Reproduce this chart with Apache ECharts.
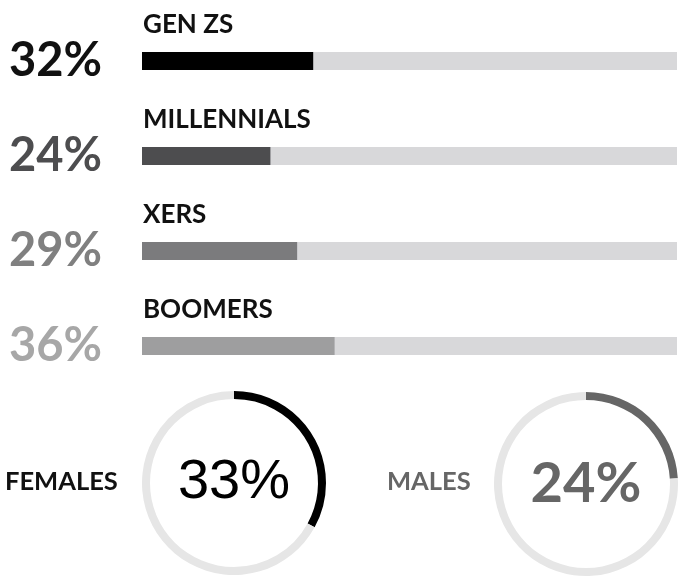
<!DOCTYPE html>
<html>
<head>
<meta charset="utf-8">
<script src="https://cdn.jsdelivr.net/npm/echarts@6/dist/echarts.min.js"></script>
<style>
  html, body { margin: 0; padding: 0; background: #fff; }
  #chart { width: 681px; height: 576px; }
</style>
</head>
<body>
<div id="chart"></div>
<script>
// generations
const generations = ['GEN ZS', 'MILLENNIALS', 'XERS', 'BOOMERS'];
const genValues = [32, 24, 29, 36];
const barColors = ['#000000', '#4d4d4f', '#7b7b7d', '#9e9e9f'];
const pctColors = ['#111111', '#4d4d4f', '#808080', '#a7a7a7'];

// gender rings
const genders = ['FEMALES', 'MALES'];
const genderValues = [33, 24];
const genderColors = ['#000000', '#666666'];

const chart = echarts.init(document.getElementById('chart'));

const lato = 'Lato, "Noto Sans", sans-serif';

function ring(i, center, textStyle) {
  return {
    type: 'pie',
    center: center,
    radius: [84, 92],
    startAngle: 90,
    clockwise: true,
    silent: true,
    emphasis: { disabled: true },
    labelLine: { show: false },
    data: [
      {
        name: genders[i],
        value: genderValues[i],
        itemStyle: { color: genderColors[i] },
        label: Object.assign({
          show: true,
          position: 'center',
          formatter: genderValues[i] + '%'
        }, textStyle)
      },
      {
        name: 'rest',
        value: 100 - genderValues[i],
        itemStyle: { color: '#e6e6e6' },
        label: { show: false }
      }
    ]
  };
}

chart.setOption({
  animation: false,
  title: [
    {
      text: genders[0], left: 0, top: 464,
      textStyle: { fontFamily: lato, fontWeight: 'bold', fontSize: 25.5, color: '#111' }
    },
    {
      text: genders[1], left: 382, top: 464,
      textStyle: { fontFamily: lato, fontWeight: 'bold', fontSize: 25.5, color: '#666' }
    }
  ],
  grid: { left: 142, right: 4, top: 13.5, bottom: 182.5 },
  xAxis: { type: 'value', min: 0, max: 100, show: false },
  yAxis: { type: 'category', data: generations, inverse: true, show: false },
  series: [
    {
      type: 'bar',
      data: generations.map(() => 100),
      barWidth: 18,
      barGap: '-100%',
      silent: true,
      itemStyle: { color: '#d8d8da' },
      label: {
        show: true,
        position: [1, -27],
        align: 'left',
        verticalAlign: 'middle',
        formatter: p => generations[p.dataIndex],
        fontFamily: lato,
        fontWeight: 'bold',
        fontSize: 26,
        color: '#111'
      }
    },
    {
      type: 'bar',
      data: genValues.map((v, i) => ({
        value: v,
        itemStyle: { color: barColors[i] },
        label: { color: pctColors[i] }
      })),
      barWidth: 18,
      silent: true,
      label: {
        show: true,
        position: [-133, 9],
        align: 'left',
        verticalAlign: 'middle',
        formatter: p => genValues[p.dataIndex] + '%',
        fontFamily: lato,
        fontWeight: 'bold',
        fontSize: 47
      }
    },
    ring(0, [234, 483], { fontFamily: 'Liberation Sans, Arial, sans-serif', fontSize: 56, fontWeight: 'normal', color: '#000' }),
    ring(1, [586, 484], { fontFamily: lato, fontSize: 56, fontWeight: 'bold', color: '#666' })
  ]
});
</script>
</body>
</html>
